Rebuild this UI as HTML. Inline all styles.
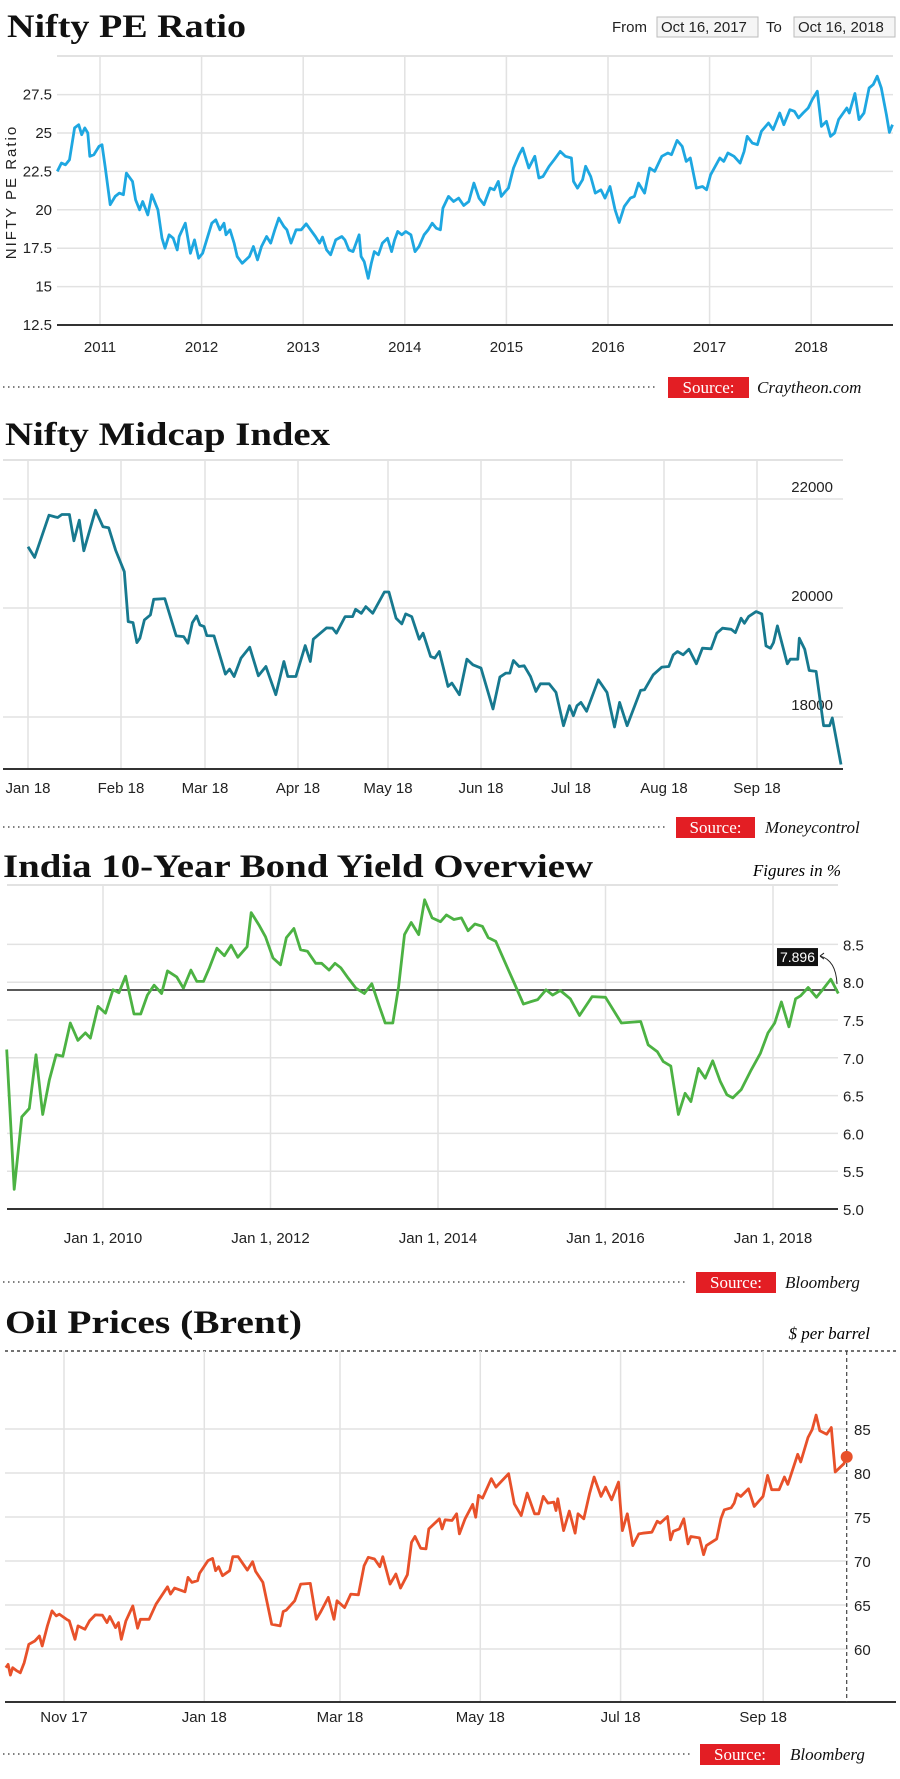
<!DOCTYPE html>
<html><head><meta charset="utf-8"><style>
html,body{margin:0;padding:0;background:#fff;}
svg{display:block;}
.tick{font-family:"Liberation Sans Narrow","Liberation Sans",sans-serif;font-size:15px;fill:#222;}
.ttl{font-family:"Liberation Serif",serif;font-weight:bold;font-size:33px;fill:#111;}
.src{font-family:"Liberation Serif",serif;font-size:17px;}
</style></head><body>
<svg id="root" width="900" height="1779" viewBox="0 0 900 1779" xmlns="http://www.w3.org/2000/svg">
<g id="c1">
<text class="ttl" x="7" y="37" textLength="239" lengthAdjust="spacingAndGlyphs">Nifty PE Ratio</text>
<text class="tick" x="612" y="32">From</text>
<g><rect x="657" y="17" width="101" height="20" fill="#f5f5f5" stroke="#bbb"/><text class="tick" x="661" y="32">Oct 16, 2017</text></g>
<text class="tick" x="766" y="32">To</text>
<g><rect x="794" y="17" width="101" height="20" fill="#f5f5f5" stroke="#bbb"/><text class="tick" x="798" y="32">Oct 16, 2018</text></g>
<text class="tick" transform="translate(16,192) rotate(-90)" text-anchor="middle" letter-spacing="2">NIFTY PE Ratio</text>
</g>
<g id="c2">
<text class="ttl" x="5" y="445" textLength="325" lengthAdjust="spacingAndGlyphs">Nifty Midcap Index</text>
</g>
<g id="c3">
<text class="ttl" x="3" y="877" textLength="590" lengthAdjust="spacingAndGlyphs">India 10-Year Bond Yield Overview</text>
<text class="src" x="841" y="876" text-anchor="end" font-style="italic" font-size="16">Figures in %</text>
</g>
<g id="c4">
<text class="ttl" x="5" y="1333" textLength="297" lengthAdjust="spacingAndGlyphs">Oil Prices (Brent)</text>
<text class="src" x="870" y="1339" text-anchor="end" font-style="italic" font-size="16">$ per barrel</text>
</g>
</svg>
<script>
// ---- Chart 1: Nifty PE (decimal years, values)
const peYears=[2010.58,2010.62,2010.66,2010.70,2010.75,2010.79,2010.82,2010.85,2010.88,2010.90,2010.94,2010.99,2011.02,2011.05,2011.10,2011.15,2011.19,2011.23,2011.26,2011.32,2011.35,2011.39,2011.42,2011.47,2011.51,2011.57,2011.61,2011.64,2011.68,2011.72,2011.76,2011.78,2011.84,2011.89,2011.93,2011.97,2012.01,2012.10,2012.14,2012.18,2012.22,2012.24,2012.28,2012.32,2012.35,2012.40,2012.47,2012.51,2012.55,2012.59,2012.64,2012.68,2012.72,2012.76,2012.81,2012.84,2012.88,2012.93,2012.98,2013.03,2013.12,2013.16,2013.19,2013.23,2013.27,2013.32,2013.38,2013.41,2013.45,2013.49,2013.55,2013.57,2013.60,2013.64,2013.67,2013.70,2013.74,2013.78,2013.83,2013.87,2013.90,2013.93,2013.97,2014.01,2014.06,2014.10,2014.14,2014.19,2014.23,2014.27,2014.31,2014.35,2014.375,2014.43,2014.48,2014.53,2014.58,2014.63,2014.68,2014.73,2014.78,2014.84,2014.88,2014.92,2014.95,2014.99,2015.02,2015.07,2015.125,2015.16,2015.22,2015.28,2015.32,2015.36,2015.42,2015.47,2015.53,2015.58,2015.64,2015.66,2015.70,2015.75,2015.78,2015.83,2015.875,2015.93,2015.97,2016.02,2016.07,2016.11,2016.16,2016.22,2016.26,2016.30,2016.36,2016.41,2016.46,2016.53,2016.59,2016.625,2016.68,2016.73,2016.77,2016.81,2016.87,2016.93,2016.97,2017.01,2017.10,2017.14,2017.18,2017.24,2017.30,2017.34,2017.37,2017.42,2017.47,2017.51,2017.58,2017.625,2017.69,2017.73,2017.79,2017.835,2017.875,2017.92,2017.97,2018.01,2018.06,2018.10,2018.15,2018.19,2018.23,2018.27,2018.35,2018.375,2018.43,2018.47,2018.52,2018.57,2018.61,2018.65,2018.69,2018.74,2018.77,2018.80];
const peValues=[22.5,23.04,22.93,23.26,25.33,25.54,24.89,25.33,25.0,23.48,23.59,24.13,24.24,22.83,20.33,20.87,21.09,20.98,22.39,21.85,20.65,20.0,20.54,19.67,20.98,20.0,18.15,17.5,18.37,18.15,17.39,18.26,19.13,17.17,18.04,16.85,17.17,19.13,19.35,18.7,19.13,18.37,18.7,17.83,16.96,16.52,16.96,17.61,16.74,17.61,18.26,17.83,18.7,19.46,18.91,18.7,17.83,18.7,18.7,19.09,18.26,17.83,18.22,17.39,17.07,18.04,18.26,18.04,17.39,17.28,18.37,16.96,16.63,15.54,16.52,17.28,17.07,17.83,18.15,17.28,18.04,18.59,18.37,18.59,18.37,17.28,17.61,18.37,18.7,19.13,18.8,18.7,20.11,20.87,20.54,20.76,20.28,20.54,21.74,20.76,20.33,21.41,21.3,21.85,20.87,21.2,21.41,22.72,23.59,24.02,22.72,23.48,22.07,22.17,22.83,23.26,23.8,23.48,23.37,21.85,21.41,21.96,22.83,22.17,21.09,21.3,20.76,21.52,20.0,19.17,20.22,20.76,20.87,21.74,21.09,22.72,22.5,23.48,23.7,23.59,24.52,24.13,23.15,23.37,21.41,21.52,21.3,22.28,23.37,23.15,23.7,23.48,23.04,23.8,24.78,24.35,24.24,25.11,25.65,25.22,26.3,25.54,26.52,26.41,25.98,26.3,26.63,27.17,27.72,25.43,25.76,24.78,25.0,25.87,26.63,26.3,27.57,25.87,26.3,27.93,28.15,28.7,27.93,26.2,25.04,25.54];
const peYTicks=[12.5,15,17.5,20,22.5,25,27.5];
const peYTickLabels=["12.5","15","17.5","20","22.5","25","27.5"];
const peXTicks=[2011,2012,2013,2014,2015,2016,2017,2018];

// ---- Chart 2: Midcap (day of year 2018, index values)
const midDays=[0,2.2,7.0,9,9.9,11.3,13.8,15.3,17.1,18.6,22.5,25,26.9,29.2,32.1,33.4,35,36.3,37.3,38.8,40.8,41.9,45.6,49.4,51.9,53.3,54.8,56.2,57.3,58.7,59.6,62,65.8,67.2,68.7,71,73.9,76.8,79.3,82.6,85.3,86.6,89.3,92.4,94.1,95.1,99.5,101.5,102.8,105.7,108.2,109.2,111.1,112.6,114.9,118.8,120.3,122.7,124.6,125.9,127.9,130.4,131.7,134.2,135.6,137.1,140,141.3,143.8,146.3,148.3,151,155,157.3,159.3,160.6,161.8,163.7,165.4,167.5,169.3,170.8,173.7,176,178.5,180.5,181.8,183,184.3,186.2,190.1,193,195.5,197.2,199.7,204.2,205.5,208.4,211.3,213.6,215.1,216.5,218.4,220.3,222.8,224.8,227.7,229.6,231.5,234.4,235.8,237.7,238.8,240.2,242.7,244.6,246,247.5,248.5,249.8,253.1,254.1,256.6,257.1,258.9,260.4,262.7,265.2,267.2,268.1,271];
const midValues=[21123,20928,21703,21672,21660,21715,21715,21233,21611,21050,21794,21489,21471,21062,20666,19751,19732,19366,19446,19781,19873,20159,20172,19488,19476,19354,19732,19854,19690,19659,19494,19488,18787,18878,18744,19080,19281,18756,18927,18409,19019,18744,18744,19311,19019,19427,19635,19629,19537,19842,19842,19976,19903,20025,19903,20294,20294,19812,19708,19891,19842,19427,19537,19110,19080,19202,18561,18622,18409,19061,18958,18897,18146,18732,18805,18805,19037,18927,18939,18744,18470,18610,18610,18451,17841,18207,18024,18207,18268,18104,18683,18451,17817,18268,17841,18488,18500,18775,18915,18927,19141,19202,19141,19244,18976,19263,19251,19537,19629,19610,19549,19812,19720,19842,19934,19891,19305,19263,19366,19671,18976,19061,19061,19446,19244,18854,18836,17841,17841,17982,17128];
const midYTicks=[18000,20000,22000];
const midXTickDays=[0,31,59,90,120,151,181,212,243];
const midXTickLabels=["Jan 18","Feb 18","Mar 18","Apr 18","May 18","Jun 18","Jul 18","Aug 18","Sep 18"];

// ---- Chart 3: Bond yield (decimal years, %)
const bondYears=[2008.85,2008.94,2009.03,2009.12,2009.20,2009.28,2009.36,2009.44,2009.52,2009.61,2009.70,2009.79,2009.85,2009.94,2010.03,2010.12,2010.19,2010.27,2010.37,2010.45,2010.53,2010.61,2010.70,2010.77,2010.88,2010.96,2011.05,2011.12,2011.20,2011.27,2011.36,2011.45,2011.53,2011.61,2011.72,2011.77,2011.86,2011.94,2012.03,2012.12,2012.19,2012.28,2012.36,2012.44,2012.54,2012.61,2012.70,2012.77,2012.84,2012.93,2013.02,2013.12,2013.21,2013.30,2013.37,2013.46,2013.53,2013.60,2013.68,2013.77,2013.84,2013.93,2014.03,2014.10,2014.19,2014.28,2014.36,2014.44,2014.53,2014.60,2014.69,2014.81,2014.91,2015.02,2015.10,2015.19,2015.29,2015.37,2015.46,2015.58,2015.69,2015.84,2016.00,2016.19,2016.42,2016.51,2016.62,2016.69,2016.78,2016.87,2016.95,2017.02,2017.11,2017.19,2017.28,2017.37,2017.45,2017.52,2017.62,2017.74,2017.85,2017.94,2018.02,2018.10,2018.19,2018.27,2018.33,2018.42,2018.52,2018.60,2018.69,2018.78];
const bondValues=[7.11,5.26,6.22,6.33,7.04,6.25,6.71,7.04,7.02,7.46,7.23,7.33,7.26,7.68,7.59,7.90,7.86,8.08,7.58,7.58,7.83,7.96,7.85,8.15,8.07,7.92,8.16,8.01,8.01,8.19,8.45,8.35,8.49,8.33,8.47,8.92,8.76,8.60,8.32,8.23,8.59,8.71,8.43,8.41,8.25,8.25,8.16,8.25,8.19,8.05,7.92,7.85,7.98,7.68,7.46,7.46,7.94,8.63,8.79,8.63,9.09,8.85,8.80,8.89,8.83,8.85,8.68,8.77,8.74,8.59,8.54,8.24,7.99,7.71,7.74,7.77,7.90,7.83,7.89,7.78,7.56,7.81,7.80,7.46,7.48,7.17,7.08,6.95,6.89,6.25,6.53,6.42,6.86,6.73,6.96,6.69,6.51,6.47,6.58,6.84,7.06,7.33,7.46,7.74,7.41,7.78,7.82,7.93,7.80,7.91,8.04,7.85];
const bondRef=[7.896];
const bondYTicks=[5.0,5.5,6.0,6.5,7.0,7.5,8.0,8.5];
const bondXTicks=[2010,2012,2014,2016,2018];

// ---- Chart 4: Brent (days since Nov 1 2017, $)
const oilDays=[-25.3,-24.3,-23.3,-22.3,-20.8,-19.0,-17.3,-15.3,-12.7,-10.7,-9.5,-7.2,-5.2,-3.4,-2.0,1.1,2.3,4.8,6.1,9.1,11.1,13.6,16.7,18.7,19.9,22.4,23.7,24.9,26.9,29.9,32.0,33.2,37.0,40.0,45.0,46.3,48.1,52.6,53.9,55.6,58.1,58.9,62.6,64.6,65.9,67.2,68.9,72.0,73.4,75.7,79.7,82.0,83.3,86.5,90.3,94.0,95.3,96.6,100.3,102.9,107.1,109.7,111.7,114.9,117.4,118.7,122.0,124.7,128.0,130.5,132.3,135.0,137.3,138.6,141.8,144.3,146.3,149.3,151.1,152.6,155.1,157.4,158.6,163.2,164.4,165.7,168.7,170.7,171.9,174.4,177.7,179.0,180.2,182.0,185.8,187.8,193.3,195.8,198.8,201.4,204.6,206.4,208.4,210.4,213.0,213.9,214.7,217.2,219.7,222.2,223.5,226.0,228.5,230.5,233.5,235.5,238.1,241.1,242.8,244.9,247.3,249.9,251.6,255.6,257.9,259.2,262.4,263.7,264.9,267.5,269.5,271.3,272.5,276.3,278.1,279.3,283.8,285.6,287.1,290.1,291.4,292.6,294.3,297.6,300.1,303.9,305.9,307.7,310.9,313.2,314.7,319.0,320.3,323.5,325.3,327.0,328.6,331.6,333.6,335.3,339.1,340.3];
const oilValues=[57.87,58.25,57.03,57.87,57.57,57.30,58.44,60.53,60.91,61.48,60.34,62.62,64.33,63.76,63.95,63.38,63.19,61.10,62.62,62.24,63.19,63.88,63.84,63.00,63.69,62.43,63.00,61.10,63.19,64.90,62.36,63.38,63.38,65.09,67.07,66.24,66.92,66.50,68.14,67.57,67.76,68.59,70.04,70.30,68.90,69.35,68.33,68.90,70.49,70.49,68.97,69.92,68.82,67.57,62.81,62.62,64.26,64.41,65.48,67.38,67.45,63.38,64.26,65.86,63.38,65.48,64.71,66.24,66.16,69.47,70.42,70.23,69.35,70.49,67.38,68.52,66.92,68.44,72.13,72.78,71.44,71.37,73.65,74.79,73.65,74.68,74.60,75.36,73.08,74.79,76.43,74.98,77.45,77.15,79.35,78.40,79.92,76.50,75.17,77.72,75.36,75.36,77.34,76.58,76.69,75.74,77.07,73.46,75.67,73.16,75.36,74.79,77.64,79.54,77.34,78.40,76.96,78.97,73.46,75.36,71.75,73.08,73.16,73.27,74.52,74.30,75.06,72.40,73.38,73.65,74.79,71.94,72.78,72.62,70.72,71.75,72.51,74.79,75.82,76.05,76.58,77.64,77.34,78.21,76.20,77.34,79.73,78.10,78.10,79.54,78.71,82.13,81.25,84.03,84.94,86.58,84.79,84.41,85.17,80.11,81.06,81.83];
const oilYTicks=[60,65,70,75,80,85];
const oilXTickDays=[0,61,120,181,242,304];
const oilXTickLabels=["Nov 17","Jan 18","Mar 18","May 18","Jul 18","Sep 18"];

const NS="http://www.w3.org/2000/svg";
function mk(parent,tag,attrs,txt){const e=document.createElementNS(NS,tag);for(const k in attrs)e.setAttribute(k,attrs[k]);if(txt!==undefined)e.textContent=txt;parent.appendChild(e);return e;}
function pathFrom(xs,ys,fx,fy){return xs.map((x,i)=>(i?"L":"M")+fx(x).toFixed(1)+","+fy(ys[i]).toFixed(1)).join("");}
function source(g,y,bx,bw,name,nameX){
  const l=mk(g,"line",{x1:3,x2:bx-10,y1:y,y2:y,stroke:"#555","stroke-width":1.5,"stroke-dasharray":"1.5 3.5"});
  
  
  const r=mk(g,"rect",{x:bx,y:y-10,width:bw,height:21,fill:"#e31e24"});
  
  
  const t=mk(g,"text",{class:"src",x:bx+bw/2,y:y+6,"text-anchor":"middle",style:"fill:#fff"},"Source:");
  
  
  const n=mk(g,"text",{class:"src",x:nameX,y:y+6,"font-style":"italic",style:"fill:#111"},name);
  
  
}
const GRID="#e2e2e2";

// Chart 1
(function(){
  const g=document.getElementById("c1");
  const X0=57,X1=893,top=56,bot=325;
  const fx=yr=>100+(yr-2011)*101.6, fy=v=>325-(v-12.5)*15.36;
  const t=mk(g,"line",{x1:X0,x2:X1,y1:top,y2:top,stroke:GRID,"stroke-width":2});
  
  
  peXTicks.forEach(yr=>{
    const l=mk(g,"line",{x1:fx(yr),x2:fx(yr),y1:top,y2:bot,stroke:GRID,"stroke-width":1.5});
    
    
    const tx=mk(g,"text",{class:"tick",x:fx(yr),y:352,"text-anchor":"middle"},String(yr));
    
    
  });
  peYTicks.forEach((v,i)=>{
    if(i>0){const l=mk(g,"line",{x1:X0,x2:X1,y1:fy(v),y2:fy(v),stroke:GRID,"stroke-width":1.5});
    
    }
    const tx=mk(g,"text",{class:"tick",x:52,y:fy(v)+5,"text-anchor":"end"},peYTickLabels[i]);
    
    
  });
  const ax=mk(g,"line",{x1:X0,x2:X1,y1:bot,y2:bot,stroke:"#333","stroke-width":2});
  
  
  const p=mk(g,"path",{d:pathFrom(peYears,peValues,fx,fy),fill:"none",stroke:"#1ea7e1","stroke-width":2.8,"stroke-linejoin":"round"});
  
  
  source(g,387,668,81,"Craytheon.com",757);
})();

// Chart 2
(function(){
  const g=document.getElementById("c2");
  const X0=3,X1=843,top=460,bot=769;
  const fx=d=>28+d*3.0, fy=v=>717-(v-18000)*0.0545;
  const t=mk(g,"line",{x1:X0,x2:X1,y1:top,y2:top,stroke:GRID,"stroke-width":2});
  
  
  midXTickDays.forEach((d,i)=>{
    const l=mk(g,"line",{x1:fx(d),x2:fx(d),y1:top,y2:bot,stroke:GRID,"stroke-width":1.5});
    
    
    const tx=mk(g,"text",{class:"tick",x:fx(d),y:793,"text-anchor":"middle"},midXTickLabels[i]);
    
    
  });
  midYTicks.forEach(v=>{
    const l=mk(g,"line",{x1:X0,x2:X1,y1:fy(v),y2:fy(v),stroke:GRID,"stroke-width":1.5});
    
    
    const tx=mk(g,"text",{class:"tick",x:833,y:fy(v)-7,"text-anchor":"end"},String(v));
    
    
  });
  const ax=mk(g,"line",{x1:X0,x2:X1,y1:bot,y2:bot,stroke:"#333","stroke-width":2});
  
  
  const p=mk(g,"path",{d:pathFrom(midDays,midValues,fx,fy),fill:"none",stroke:"#17798f","stroke-width":2.8,"stroke-linejoin":"round"});
  
  
  source(g,827,676,79,"Moneycontrol",765);
})();

// Chart 3
(function(){
  const g=document.getElementById("c3");
  const X0=7,X1=838,top=885,bot=1209;
  const fx=yr=>103+(yr-2010)*83.75, fy=v=>1209-(v-5)*75.6;
  const t=mk(g,"line",{x1:X0,x2:X1,y1:top,y2:top,stroke:GRID,"stroke-width":2});
  
  
  bondXTicks.forEach(yr=>{
    const l=mk(g,"line",{x1:fx(yr),x2:fx(yr),y1:top,y2:bot,stroke:GRID,"stroke-width":1.5});
    
    
    const tx=mk(g,"text",{class:"tick",x:fx(yr),y:1243,"text-anchor":"middle"},"Jan 1, "+yr);
    
    
  });
  bondYTicks.forEach((v,i)=>{
    if(i>0){const l=mk(g,"line",{x1:X0,x2:X1,y1:fy(v),y2:fy(v),stroke:GRID,"stroke-width":1.5});
    
    }
    const tx=mk(g,"text",{class:"tick",x:843,y:fy(v)+6},v.toFixed(1));
    
    
  });
  const ax=mk(g,"line",{x1:X0,x2:X1,y1:bot,y2:bot,stroke:"#333","stroke-width":2});
  
  
  const ry=fy(bondRef[0]);
  const rl=mk(g,"line",{x1:X0,x2:X1,y1:ry,y2:ry,stroke:"#222","stroke-width":1.5});
  
  
  const p=mk(g,"path",{d:pathFrom(bondYears,bondValues,fx,fy),fill:"none",stroke:"#4cb243","stroke-width":2.8,"stroke-linejoin":"round"});
  
  
  const bx=mk(g,"rect",{x:777,y:ry-42,width:41,height:18,fill:"#111"});
  
  
  const bt=mk(g,"text",{class:"tick",x:797.5,y:ry-28,"text-anchor":"middle",style:"fill:#fff;font-size:14px"},bondRef[0].toFixed(3));
  
  
  const ar=mk(g,"path",{d:`M820,${ry-34} Q836,${ry-30} 837,${ry-6} M820,${ry-34} l4,-3 M820,${ry-34} l4,3`,fill:"none",stroke:"#222","stroke-width":1});
  
  
  source(g,1282,696,80,"Bloomberg",785);
})();

// Chart 4
(function(){
  const g=document.getElementById("c4");
  const X0=5,X1=848,top=1351,bot=1702;
  const fx=d=>64+2.3*d, fy=v=>1473-(v-80)*8.8;
  const t=mk(g,"line",{x1:5,x2:898,y1:top,y2:top,stroke:"#444","stroke-width":1.5,"stroke-dasharray":"3 3"});
  
  
  oilXTickDays.forEach((d,i)=>{
    const l=mk(g,"line",{x1:fx(d),x2:fx(d),y1:top,y2:bot,stroke:GRID,"stroke-width":1.5});
    
    
    const tx=mk(g,"text",{class:"tick",x:fx(d),y:1722,"text-anchor":"middle"},oilXTickLabels[i]);
    
    
  });
  oilYTicks.forEach(v=>{
    const l=mk(g,"line",{x1:X0,x2:X1,y1:fy(v),y2:fy(v),stroke:GRID,"stroke-width":1.5});
    
    
    const tx=mk(g,"text",{class:"tick",x:854,y:fy(v)+6},String(v));
    
    
  });
  const ax=mk(g,"line",{x1:5,x2:896,y1:bot,y2:bot,stroke:"#333","stroke-width":2});
  
  
  const lastD=oilDays[oilDays.length-1], lastV=oilValues[oilValues.length-1];
  const vd=mk(g,"line",{x1:fx(lastD),x2:fx(lastD),y1:top,y2:bot,stroke:"#444","stroke-width":1.2,"stroke-dasharray":"4 3"});
  
  
  const p=mk(g,"path",{d:pathFrom(oilDays,oilValues,fx,fy),fill:"none",stroke:"#e8512a","stroke-width":2.8,"stroke-linejoin":"round"});
  
  
  const c=mk(g,"circle",{cx:fx(lastD),cy:fy(lastV),r:6,fill:"#e8512a"});
  
  
  source(g,1754,700,80,"Bloomberg",790);
})();
</script>
</body></html>
